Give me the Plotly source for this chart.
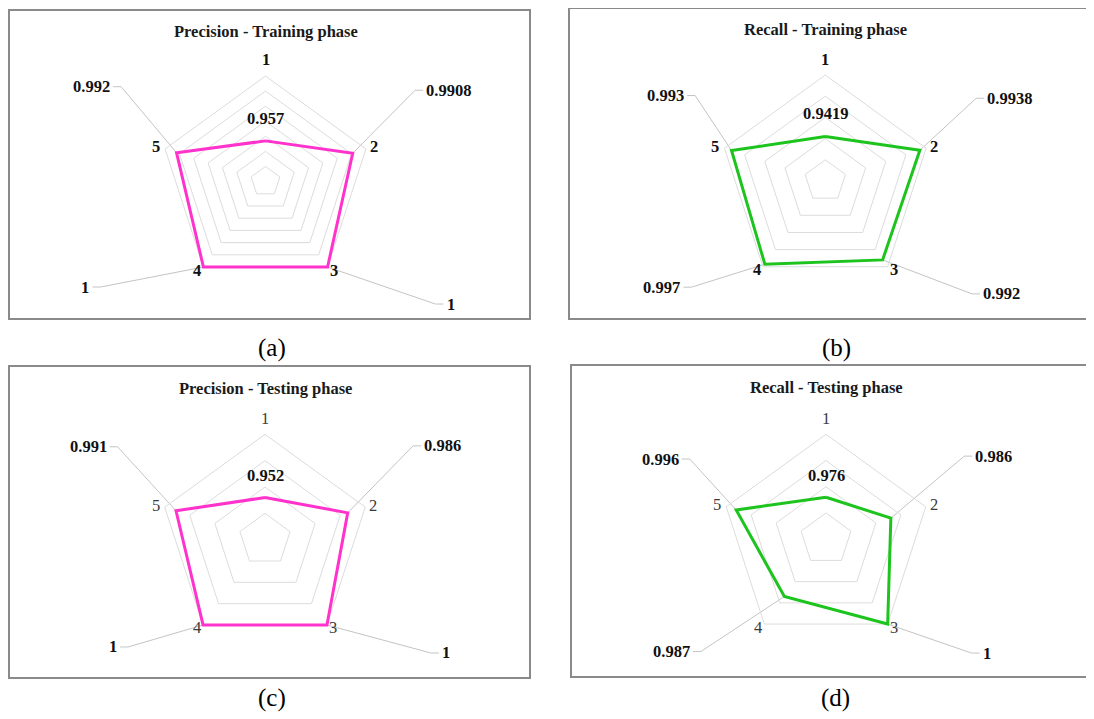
import math
import plotly.graph_objects as go

W, H = 1094, 719
OFF = 8  # page body margin: figure is drawn 8px right/down of the window origin

# ---------------- data ----------------
categories = ["1", "2", "3", "4", "5"]
titles = ["Precision - Training phase", "Recall - Training phase",
          "Precision - Testing phase", "Recall - Testing phase"]
captions = ["(a)", "(b)", "(c)", "(d)"]
precision_train = [0.957, 0.9908, 1, 1, 0.992]
recall_train = [0.9419, 0.9938, 0.992, 0.997, 0.993]
precision_test = [0.952, 0.986, 1, 1, 0.991]
recall_test = [0.976, 0.986, 1, 0.987, 0.996]

series = [precision_train, recall_train, precision_test, recall_test]
radial_ranges = [[0.93, 1.0], [0.90, 1.0], [0.92, 1.0], [0.96, 1.0]]
radial_dticks = [0.01, 0.02, 0.02, 0.01]

# ---------------- layout / style ----------------
PINK = "#FF33CC"
GREEN = "#1EC41E"
line_colors = [PINK, GREEN, PINK, GREEN]
cat_bold = [True, True, False, False]
# polar centre (window px, y down) and radius of the outer pentagon (px)
geoms = [(265.5, 181.6, 105.6), (825.3, 181.0, 106.0),
         (265.0, 539.7, 105.4), (826.0, 539.2, 104.9)]
PAD_PX = 3  # extra room so the outer data line is not clipped
# value label offsets from the data point, px (dx right, dy down)
label_offsets = [
    [(0, -22), (96, -63), (123, 37), (-118, 20), (-85, -66)],
    [(0, -23), (90, -52), (119, 34), (-103, 23), (-66, -55)],
    [(0, -22), (95, -67), (119, 28), (-90, 22), (-88, -64)],
    [(0, -22), (103, -62), (99, 29), (-113, 55), (-76, -51)],
]
# category label offsets from the outer vertices, px
cat_offsets = [(0, -16), (8, -2), (6, 3), (-6, 3), (-9, -2)]
boxes = [(9, 10, 530, 319), (569, 8, 1104, 319),
         (9, 366, 530, 678), (571, 365, 1104, 677)]
title_y = [31, 29, 388, 387]
caption_pos = [(272, 348), (836, 348), (272, 698), (835, 698)]

FONT = "Liberation Serif"
FS = 16.5


def fx(x):
    return (x - OFF) / W


def fy(y):
    return 1 - (y - OFF) / H


def text_halfwidth(t, fs):
    n_dot = t.count(".")
    n_dig = len(t) - n_dot
    return (n_dig * 0.5 + n_dot * 0.25) * fs / 2.0


fig = go.Figure()
annotations = []
shapes = []

for i in range(4):
    k = i + 1
    cx, cy, R = geoms[i]
    r0, r1 = radial_ranges[i]
    r1e = r1 + PAD_PX * (r1 - r0) / R
    Rd = R + PAD_PX
    vals = series[i]
    pkey = "polar" if k == 1 else f"polar{k}"

    fig.add_trace(go.Scatterpolar(
        r=vals + [vals[0]], theta=categories + [categories[0]],
        mode="lines", line=dict(color=line_colors[i], width=3),
        cliponaxis=False,
        subplot=pkey, showlegend=False, hoverinfo="skip"))

    fig.update_layout(**{pkey: dict(
        domain=dict(x=[fx(cx - Rd), fx(cx + Rd)], y=[fy(cy + Rd), fy(cy - Rd)]),
        gridshape="linear",
        bgcolor="rgba(0,0,0,0)",
        angularaxis=dict(
            type="category", categoryarray=categories,
            direction="clockwise", rotation=90,
            showgrid=False, showline=False,
            ticks="", showticklabels=False, layer="below traces"),
        radialaxis=dict(
            range=[r0, r1e], tick0=r0, dtick=radial_dticks[i],
            showticklabels=False, ticks="", showline=False,
            gridcolor="#dcdcdc", gridwidth=1, layer="below traces"),
    )})

    # overlay cartesian axes covering the panel, 1 unit = R px, origin at polar centre
    bx0, by0, bx1, by1 = boxes[i]
    dx0 = max(bx0, OFF)
    dx1 = min(bx1, W + OFF)
    dy0 = max(by0, OFF)
    dy1 = min(by1, H + OFF)
    xa = "xaxis" if k == 1 else f"xaxis{k}"
    ya = "yaxis" if k == 1 else f"yaxis{k}"
    xr = "x" if k == 1 else f"x{k}"
    yr = "y" if k == 1 else f"y{k}"
    fig.update_layout(**{
        xa: dict(domain=[fx(dx0), fx(dx1)], range=[(dx0 - cx) / R, (dx1 - cx) / R],
                 visible=False, anchor=yr, fixedrange=True),
        ya: dict(domain=[fy(dy1), fy(dy0)], range=[(cy - dy1) / R, (cy - dy0) / R],
                 visible=False, anchor=xr, fixedrange=True),
    })

    for j, v in enumerate(vals):
        th = math.radians(72 * j)
        # category label at the outer vertex
        ox, oy = math.sin(th), math.cos(th)
        cdx, cdy = cat_offsets[j]
        annotations.append(dict(
            x=ox, y=oy, xref=xr, yref=yr, text=categories[j], showarrow=False,
            xshift=cdx, yshift=-cdy, xanchor="center", yanchor="middle",
            font=dict(family=FONT, size=FS,
                      color="#111111" if cat_bold[i] else "#3a3a3a",
                      weight="bold" if cat_bold[i] else "normal")))

        # value label with leader line
        rho = (v - r0) / (r1 - r0)
        px, py = rho * ox, rho * oy
        dx, dy = label_offsets[i][j]
        txt = f"{v:g}"
        annotations.append(dict(
            x=px, y=py, xref=xr, yref=yr, text=txt, showarrow=False,
            xshift=dx, yshift=-dy, xanchor="center", yanchor="middle",
            font=dict(family=FONT, size=FS, color="#111111", weight="bold")))
        if dx != 0:
            hw = text_halfwidth(txt, FS)
            side = 1 if dx > 0 else -1
            end_dx = dx - side * (hw + 3)
            elb_dx = end_dx - side * 8
            xs = [px, px + elb_dx / R, px + end_dx / R]
            ys = [py, py - dy / R, py - dy / R]
            fig.add_trace(go.Scatter(
                x=xs, y=ys, xaxis=xr, yaxis=yr, mode="lines",
                line=dict(color="#c4c4c4", width=1),
                showlegend=False, hoverinfo="skip"))

    # panel title
    annotations.append(dict(
        x=fx(cx), y=fy(title_y[i]), xref="paper", yref="paper",
        text=titles[i], showarrow=False, xanchor="center", yanchor="middle",
        font=dict(family=FONT, size=FS, color="#1a1a1a", weight="bold")))
    # caption
    capx, capy = caption_pos[i]
    annotations.append(dict(
        x=fx(capx), y=fy(capy), xref="paper", yref="paper",
        text=captions[i], showarrow=False, xanchor="center", yanchor="middle",
        font=dict(family=FONT, size=25, color="#000000")))
    # frame
    shapes.append(dict(type="rect", xref="paper", yref="paper",
                       x0=fx(bx0), x1=fx(bx1), y0=fy(by1), y1=fy(by0),
                       line=dict(color="#8a8a8a", width=2),
                       fillcolor="rgba(0,0,0,0)"))

fig.update_layout(
    width=W, height=H, margin=dict(l=0, r=0, t=0, b=0),
    paper_bgcolor="white", plot_bgcolor="rgba(0,0,0,0)",
    annotations=annotations, shapes=shapes, showlegend=False,
)

fig.write_html("out.html")
